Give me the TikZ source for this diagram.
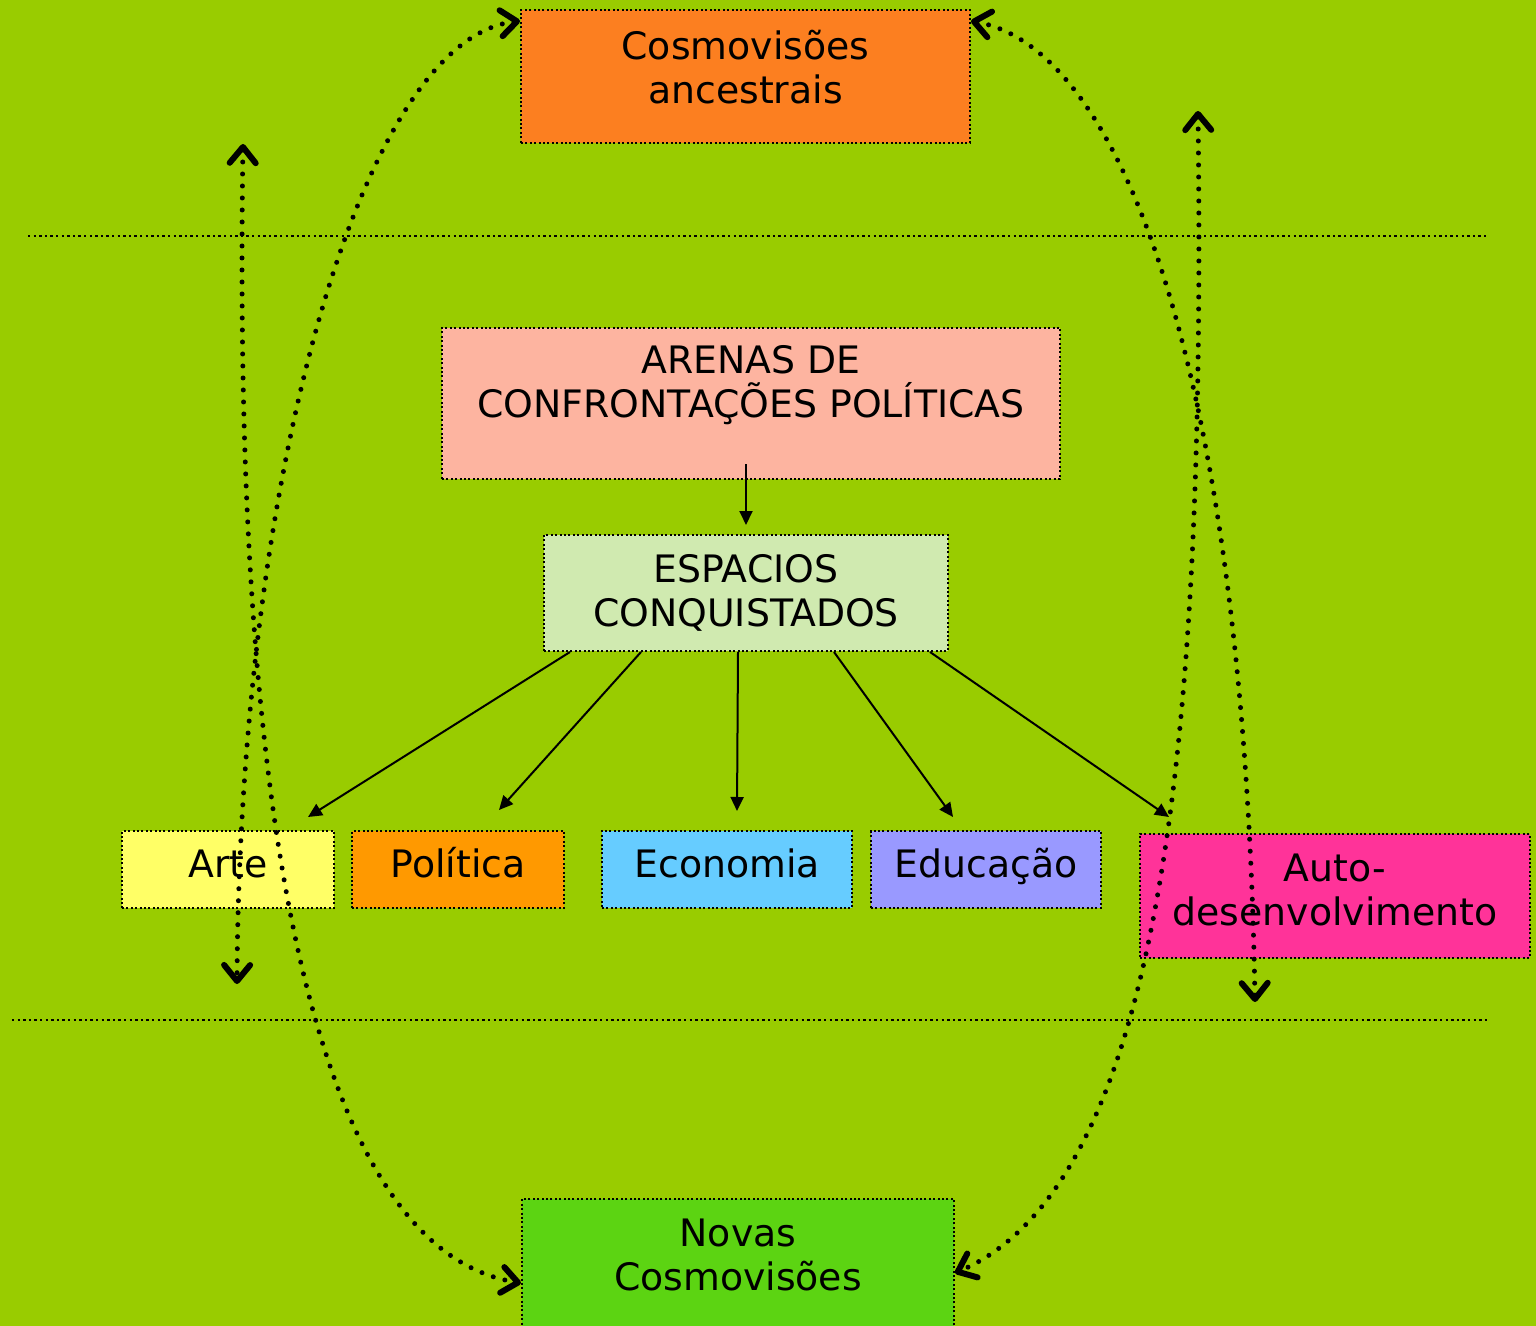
\documentclass[tikz,border=0pt]{standalone}
\usepackage{fontspec}
\setmainfont{DejaVu Sans}
\usetikzlibrary{arrows.meta,positioning}

\definecolor{fundo}{HTML}{99CC00}
\definecolor{cosmocor}{HTML}{FC7F20}
\definecolor{arenacor}{HTML}{FDB4A0}
\definecolor{espacocor}{HTML}{D0EAB0}
\definecolor{artecor}{HTML}{FFFF66}
\definecolor{politicacor}{HTML}{FF9900}
\definecolor{economiacor}{HTML}{66CCFF}
\definecolor{educacaocor}{HTML}{9999FF}
\definecolor{autocor}{HTML}{FF3399}
\definecolor{novascor}{HTML}{5CD412}

\begin{document}
\begin{tikzpicture}[x=0.5pt,y=-0.5pt,font=\fontsize{18.9}{22}\selectfont,
  caixa/.style={draw,line width=1pt,dash pattern=on 1pt off 1.2pt,align=center,inner sep=0pt},
  area/.style={caixa,minimum height=38.5pt,text height=13pt,text depth=5.5pt},
  seta/.style={-{Triangle[length=7pt,width=6.5pt]},line width=1pt},
  pontos/.style={line width=2.5pt,line cap=round,dash pattern=on 0pt off 6pt,
    {Straight Barb[length=8pt,width=13pt,line width=3pt,round]}-{Straight Barb[length=8pt,width=13pt,line width=3pt,round]}},
  divisa/.style={line width=1.2pt,dash pattern=on 1.2pt off 1.6pt}]
  \useasboundingbox (0,0) rectangle (1536,1326);
  \fill[fundo] (0,0) rectangle (1536,1326);
  % linhas divisorias
  \draw[divisa] (28,236) -- (1488,236);
  \draw[divisa] (12,1020) -- (1488,1020);
  % caixas
  \node[caixa,fill=cosmocor,minimum width=224.5pt,minimum height=66.5pt] (cosmo) at (745.5,76.5) {Cosmovisões\\ancestrais\\[-12pt]~};
  \node[caixa,fill=arenacor,minimum width=309pt,minimum height=75.5pt] (arenas) at (751,403.5) {ARENAS DE\\CONFRONTAÇÕES POLÍTICAS\\~};
  \node[caixa,fill=espacocor,minimum width=202pt,minimum height=58pt] (espacios) at (746,593) {ESPACIOS\\CONQUISTADOS};
  \node[area,fill=artecor,minimum width=106pt] (arte) at (228,869.5) {Arte};
  \node[area,fill=politicacor,minimum width=106pt] (politica) at (458,869.5) {Política};
  \node[area,fill=economiacor,minimum width=125pt] (economia) at (727,869.5) {Economia};
  \node[area,fill=educacaocor,minimum width=115pt] (educacao) at (986,869.5) {Educação};
  \node[caixa,fill=autocor,minimum width=195pt,minimum height=62pt] (auto) at (1335,896) {Auto-\\desenvolvimento\\[-16pt]~};
  \node[caixa,fill=novascor,minimum width=216pt,minimum height=65pt] (novas) at (738,1264) {Novas\\Cosmovisões\\[-13pt]~};
  % setas
  \draw[seta] ([xshift=-2.5pt,yshift=8pt]arenas.south) -- ([yshift=4.5pt]espacios.north);
  \draw[seta] ([xshift=-88pt]espacios.south) -- ([xshift=40pt,yshift=6.5pt]arte.north);
  \draw[seta] ([xshift=-52.5pt]espacios.south) -- ([xshift=20.5pt,yshift=10pt]politica.north);
  \draw[seta] ([xshift=-4pt]espacios.south) -- ([xshift=5pt,yshift=9.5pt]economia.north);
  \draw[seta] ([xshift=44pt]espacios.south) -- ([xshift=-16.5pt,yshift=6.5pt]educacao.north);
  \draw[seta] ([xshift=92pt]espacios.south) -- ([xshift=15pt,yshift=8pt]auto.north west);
  % setas pontilhadas
  \coordinate (topoE) at (243,144);
  \coordinate (baseE) at (237,984);
  \coordinate (topoD) at (1198,111);
  \coordinate (baseD) at (1255,1002);
  \draw[pontos] ([yshift=-6pt]cosmo.north west) .. controls (360,40) and (240,480) .. (baseE);
  \draw[pontos] (topoE) .. controls (232,850) and (320,1250) .. ([yshift=-9.5pt]novas.west);
  \draw[pontos] ([yshift=-6pt]cosmo.north east) .. controls (1130,50) and (1245,400) .. (baseD);
  \draw[pontos] (topoD) .. controls (1205,700) and (1170,1180) .. ([yshift=-4.5pt]novas.east);
\end{tikzpicture}
\end{document}
